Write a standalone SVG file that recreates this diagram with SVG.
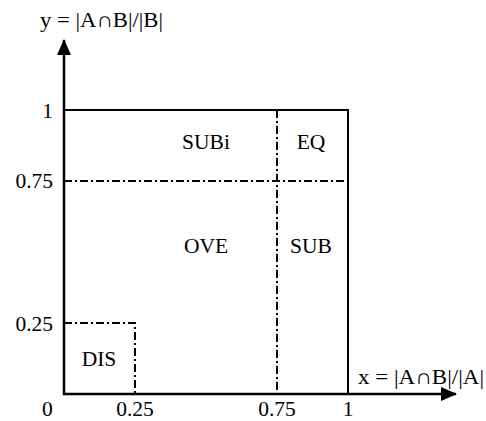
<svg xmlns="http://www.w3.org/2000/svg" width="486" height="421" viewBox="0 0 486 421">
<style>
text{font-family:"Liberation Serif","Times New Roman",serif;font-size:21.5px;fill:#000}
.ax{stroke:#000;stroke-width:2.5;fill:none}
.bx{stroke:#000;stroke-width:2;fill:none}
.dd{stroke:#000;stroke-width:2;fill:none;stroke-dasharray:8,3,2,3}
</style>
<defs>
<marker id="ah" viewBox="0 0 16 14" refX="15" refY="7" markerWidth="16" markerHeight="14" markerUnits="userSpaceOnUse" orient="auto">
<path d="M0,0 L16,7 L0,14 Z" fill="#000"/>
</marker>
</defs>
<g id="connectors">
<line class="ax" x1="64" y1="395" x2="64" y2="40" marker-end="url(#ah)"/>
<line class="ax" x1="63" y1="394" x2="456" y2="394" marker-end="url(#ah)"/>
<polyline class="bx" points="64,110 348,110 348,394"/>
<line class="dd" x1="277" y1="110" x2="277" y2="394"/>
<line class="dd" x1="64" y1="181" x2="348" y2="181"/>
<polyline class="dd" points="64,323 135,323 135,394"/>
</g>
<g id="labels">
<text x="40" y="27" textLength="123" lengthAdjust="spacingAndGlyphs">y = |A∩B|/|B|</text>
<text x="358" y="384" textLength="126" lengthAdjust="spacingAndGlyphs">x = |A∩B|/|A|</text>
<text x="53" y="118" text-anchor="end">1</text>
<text x="53" y="188" text-anchor="end">0.75</text>
<text x="53" y="331" text-anchor="end">0.25</text>
<text x="42" y="416">0</text>
<text x="135" y="416" text-anchor="middle">0.25</text>
<text x="277" y="416" text-anchor="middle">0.75</text>
<text x="348" y="416" text-anchor="middle">1</text>
</g>
<g id="SUBi"><text x="206" y="149" text-anchor="middle">SUBi</text></g>
<g id="EQ"><text x="311" y="149" text-anchor="middle">EQ</text></g>
<g id="OVE"><text x="206" y="253" text-anchor="middle">OVE</text></g>
<g id="SUB"><text x="311" y="253" text-anchor="middle">SUB</text></g>
<g id="DIS"><text x="99" y="366" text-anchor="middle">DIS</text></g>
</svg>
